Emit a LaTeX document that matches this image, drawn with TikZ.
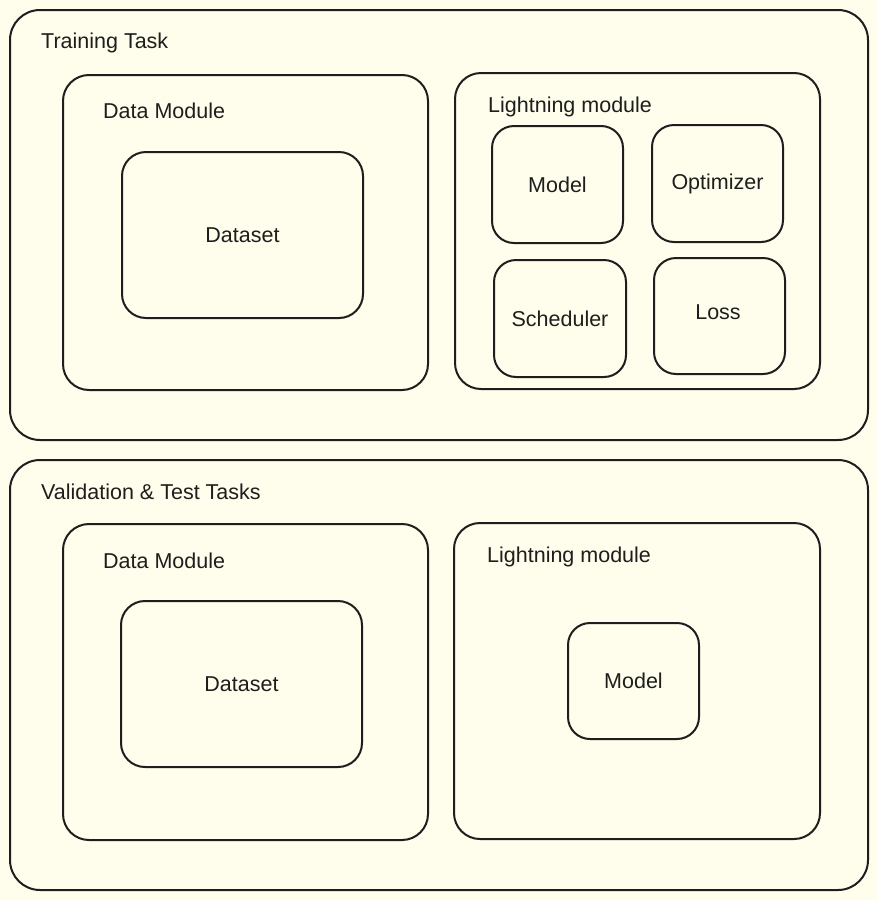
\documentclass[tikz,border=0pt]{standalone}
\usepackage{fontspec}
\setmainfont{Liberation Sans}
\definecolor{bg}{HTML}{FFFDEB}
\definecolor{ink}{HTML}{1E1E1E}
\begin{document}
\begin{tikzpicture}[x=1pt,y=-1pt,
  box/.style={draw=ink,line width=2pt,rounded corners=#1,inner sep=0pt,font=\fontsize{21.5}{24}\selectfont,text=ink},
  box/.default=22pt,
  title/.style={anchor=west,inner sep=0pt,font=\fontsize{21.5}{24}\selectfont,text=ink}]
\fill[bg] (0,0) rectangle (878,900);
\useasboundingbox (0,0) rectangle (878,900);
% Training task
\node[box=30pt,minimum width=858pt,minimum height=430pt] (train) at (439,225) {};
\node[title] (trainT) at (41,43) {Training Task};
\node[box=26pt,minimum width=365pt,minimum height=315pt] (dm1) at (245.5,232.5) {};
\node[title] (dm1T) at (103,111) {Data Module};
\node[box=24pt,minimum width=241pt,minimum height=166pt] (ds1) at (242.5,235) {Dataset};
\node[box=26pt,minimum width=365pt,minimum height=316pt] (lm1) at (637.5,231) {};
\node[title] (lm1T) at (488,107) {Lightning module};
\node[box=22pt,minimum width=131pt,minimum height=117pt] (model1) at (557.5,184.5) {Model};
\node[box=22pt,minimum width=131pt,minimum height=117pt] (opt) at (717.5,183.5) {Optimizer};
\node[box=22pt,minimum width=132pt,minimum height=117pt] (sched) at (560,318.5) {Scheduler};
\node[box=22pt,minimum width=131pt,minimum height=116pt] (loss) at (719.5,316) {};
\node[text=ink,font=\fontsize{21.5}{24}\selectfont,inner sep=0pt] (lossT) at (718,312) {Loss};
% Validation & test
\node[box=30pt,minimum width=858pt,minimum height=430pt] (val) at (439,675) {};
\node[title] (valT) at (41,492) {Validation \& Test Tasks};
\node[box=26pt,minimum width=365pt,minimum height=316pt] (dm2) at (245.5,682) {};
\node[title] (dm2T) at (103,561) {Data Module};
\node[box=24pt,minimum width=241pt,minimum height=166pt] (ds2) at (241.5,684) {Dataset};
\node[box=26pt,minimum width=366pt,minimum height=316pt] (lm2) at (637,681) {};
\node[title] (lm2T) at (487,557) {Lightning module};
\node[box=22pt,minimum width=131pt,minimum height=116pt] (model2) at (633.5,681) {Model};
\end{tikzpicture}
\end{document}
